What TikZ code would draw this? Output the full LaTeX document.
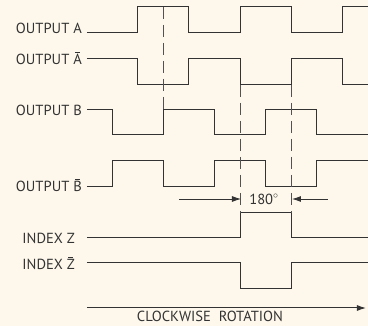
\documentclass[tikz,border=0pt]{standalone}
\usepackage{fontspec}
\setmainfont{PT Sans}
\usetikzlibrary{arrows.meta}
\definecolor{bg}{HTML}{FEF8EC}
\definecolor{ink}{HTML}{333333}
\newcommand\bartop[1]{\setbox0\hbox{#1}\rlap{\hbox to \wd0{\hss\rule[\dimexpr\ht0+1.6pt\relax]{0.6\wd0}{0.8pt}\hss}}#1}
\begin{document}
\begin{tikzpicture}[x=1pt,y=-1pt,
  wave/.style={draw=ink, line width=1pt},
  guide/.style={draw=ink!85, line width=1pt, dash pattern=on 12pt off 6pt},
  lbl/.style={anchor=base east, inner sep=0pt, font=\fontsize{14.6}{14.6}\selectfont, text=ink},
  dimarrow/.style={draw=ink, line width=0.8pt, -{Latex[length=9pt,width=6pt]}}]
\fill[bg] (0,0) rectangle (368,326);
\useasboundingbox (0,0) rectangle (368,326);
% labels
\node[lbl] (la) at (82,34) {OUTPUT A};
\node[lbl] (lna) at (82,65) {OUTPUT \bartop{A}};
\node[lbl] (lb) at (82,116) {OUTPUT B};
\node[lbl] (lnb) at (82,192) {OUTPUT \bartop{B}};
\node[lbl] (lz) at (75,244) {INDEX Z};
\node[lbl] (lnz) at (75,270) {INDEX \bartop{Z}};
\node[lbl, anchor=base] (rot) at (210,322) {CLOCKWISE\ \ ROTATION};
\node[lbl, anchor=center] (deg) at (264,199) {180$^\circ$};
% waveforms
\draw[wave] (87,33) -- (138,33) -- (138,7) -- (189,7) -- (189,33) -- (241,33) -- (241,7) -- (292,7) -- (292,33) -- (343,33) -- (343,7) -- (368,7);
\draw[wave] (87,59) -- (138,59) -- (138,85) -- (189,85) -- (189,59) -- (241,59) -- (241,85) -- (292,85) -- (292,59) -- (343,59) -- (343,85) -- (368,85);
\draw[wave] (87,110) -- (113,110) -- (113,135) -- (164,135) -- (164,110) -- (215,110) -- (215,135) -- (266,135) -- (266,110) -- (317,110) -- (317,135) -- (368,135);
\draw[wave] (87,187) -- (113,187) -- (113,161) -- (164,161) -- (164,187) -- (215,187) -- (215,161) -- (266,161) -- (266,187) -- (317,187) -- (317,161) -- (368,161);
\draw[wave] (87,238) -- (241,238) -- (241,213) -- (292,213) -- (292,238) -- (368,238);
\draw[wave] (87,263) -- (241,263) -- (241,289) -- (292,289) -- (292,263) -- (368,263);
% guides
\draw[guide] (164,7) -- (164,110);
\draw[guide] (241,85) -- (241,213);
\draw[guide] (292,85) -- (292,213);
% dimension arrows
\coordinate (dl) at (179,199);
\coordinate (dlt) at (241,199);
\coordinate (dr) at (328,199);
\coordinate (drt) at (292,199);
\draw[dimarrow] (dl) -- (dlt);
\draw[dimarrow] (dr) -- (drt);
% rotation arrow
\coordinate (r0) at (87,308);
\coordinate (r1) at (366,308);
\draw[dimarrow, line width=1pt] (r0) -- (r1);
\end{tikzpicture}
\end{document}
